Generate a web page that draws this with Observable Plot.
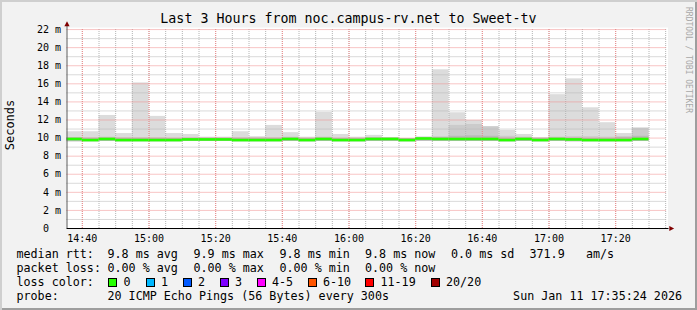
<!DOCTYPE html>
<html>
<head>
<meta charset="utf-8">
<script src="https://cdn.jsdelivr.net/npm/d3@7"></script>
<script src="https://cdn.jsdelivr.net/npm/@observablehq/plot@0.6"></script>
<style>
html, body { margin: 0; padding: 0; background: #ffffff; }
#chart {
  position: relative; width: 697px; height: 310px; box-sizing: border-box;
  background: #f2f2f2;
  box-shadow: inset 2px 2px 0 #cfcfcf, inset -2px -2px 0 #9e9e9e;
  font-family: "DejaVu Sans Mono", monospace; color: #000; overflow: hidden;
}
#chart svg { position: absolute; left: 0; top: 0; }
.t { position: absolute; white-space: pre; font-size: 11.7px; line-height: 14px; }
.title { position: absolute; left: 0; top: 11px; width: 697px; text-align: center; font-size: 13.3px; line-height: 16px; white-space: pre; }
.ylab { position: absolute; font-size: 12px; line-height: 14px; white-space: pre; transform: translate(-50%, -50%) rotate(-90deg); }
.wm { position: absolute; font-size: 8px; line-height: 10px; color: #a8a8a8; white-space: pre; transform: translate(-50%, -50%) rotate(90deg); }
.sw { position: absolute; width: 7px; height: 7px; border: 1px solid #000; }
</style>
</head>
<body>
<div id="chart"></div>
<script>
// ---------- data ----------
const titleText = "Last 3 Hours from noc.campus-rv.net to Sweet-tv";
const yAxisTitle = "Seconds";
const watermark = "RRDTOOL / TOBI OETIKER";
const day = "2026-01-11";
const rangeStart = "14:35:24";
const rangeEnd = "17:35:24";

const barStarts = ["14:35","14:40","14:45","14:50","14:55","15:00","15:05","15:10","15:15","15:20","15:25","15:30","15:35","15:40","15:45","15:50","15:55","16:00","16:05","16:10","16:15","16:20","16:25","16:30","16:35","16:40","16:45","16:50","16:55","17:00","17:05","17:10","17:15","17:20","17:25"];
const smokeLow  = [9.6,9.6,9.62,9.6,9.6,9.6,9.6,9.62,9.62,9.62,9.6,9.6,9.6,9.62,9.6,9.62,9.6,9.6,9.62,9.62,9.6,9.65,9.62,9.62,9.62,9.62,9.6,9.62,9.6,9.62,9.6,9.6,9.6,9.6,9.62];
const smokeHigh = [10.7,10.7,12.5,10.5,16.1,12.4,10.5,10.4,10.1,10.1,10.7,10.15,11.4,10.6,10.1,12.85,10.4,10.1,10.3,10.0,9.95,10.1,17.55,12.8,11.95,11.25,10.85,10.4,10.05,14.8,16.55,13.35,11.7,10.5,11.1];
const smokeMid  = [10.05,10.05,10.1,10.05,10.05,10.05,10.0,10.0,10.0,10.0,10.05,10.05,10.05,10.1,10.0,10.1,10.0,10.0,10.05,10.0,9.95,10.1,10.15,11.4,11.5,11.25,10.2,10.1,10.0,10.1,10.15,10.15,10.1,10.1,11.1];
const smokeCore = [10.0,9.95,10.0,9.95,9.95,9.95,9.95,9.98,9.98,9.98,9.95,9.95,9.95,10.0,9.95,10.0,9.95,9.95,10.0,10.0,9.95,10.05,10.05,10.2,10.25,10.2,10.0,10.0,9.95,10.0,10.0,9.95,9.95,10.1,10.2];
const medianRtt = [9.9,9.78,9.9,9.78,9.78,9.78,9.78,9.85,9.85,9.85,9.78,9.78,9.78,9.9,9.78,9.9,9.78,9.78,9.9,9.9,9.78,9.95,9.9,9.9,9.9,9.9,9.78,9.9,9.78,9.9,9.85,9.78,9.78,9.78,9.9];

const xTickLabels = ["14:40","15:00","15:20","15:40","16:00","16:20","16:40","17:00","17:20"];
const yMajorTicks = [0,2,4,6,8,10,12,14,16,18,20,22];
const yMinorTicks = [1,3,5,7,9,11,13,15,17,19,21];
const yTop = 22.45;

const rttLabel = "median rtt:";
const rttStats = ["9.8 ms avg","9.9 ms max","9.8 ms min","9.8 ms now","0.0 ms sd","371.9","am/s"];
const lossLabel = "packet loss:";
const lossStats = ["0.00 % avg","0.00 % max","0.00 % min","0.00 % now"];
const lossColorLabel = "loss color:";
const lossNames  = ["0","1","2","3","4-5","6-10","11-19","20/20"];
const lossColors = ["#26ff00","#00b8ff","#0059ff","#7e00ff","#ff00ff","#ff5500","#ff0000","#a10000"];
const probeLabel = "probe:";
const probeText = "20 ICMP Echo Pings (56 Bytes) every 300s";
const stampText = "Sun Jan 11 17:35:24 2026";

// ---------- build ----------
const T = s => new Date(`${day}T${s.length === 5 ? s + ":00" : s}Z`);
const t0 = T(rangeStart), t1 = T(rangeEnd);
const step = 5 * 60 * 1000;
const bars = barStarts.map((s, i) => ({
  x1: new Date(Math.max(+T(s), +t0)),
  x2: new Date(+T(s) + step),
  lo: smokeLow[i], hi: smokeHigh[i], mid: smokeMid[i], core: smokeCore[i], med: medianRtt[i]
}));
const majorTimes = xTickLabels.map(T);
const minorTimes = d3.utcMinute.every(5).range(t0, t1);

const upTri = { draw(c) { c.moveTo(0, -2.7); c.lineTo(2.6, 2.2); c.lineTo(-2.6, 2.2); c.closePath(); } };
const rightTri = { draw(c) { c.moveTo(2.7, 0); c.lineTo(-2.2, -2.6); c.lineTo(-2.2, 2.6); c.closePath(); } };

const minorStyle = { stroke: "#b4b4b4", strokeDasharray: "1,1", strokeWidth: 1 };
const majorStyle = { stroke: "#f08a8a", strokeDasharray: "1,1", strokeWidth: 1 };

const plot = Plot.plot({
  width: 697, height: 250,
  marginLeft: 66.5, marginRight: 30.5, marginTop: 25, marginBottom: 22,
  style: { background: "transparent", fontFamily: "DejaVu Sans Mono", fontSize: "10px", color: "#000", overflow: "visible" },
  x: { type: "utc", domain: [t0, t1], ticks: majorTimes, tickFormat: d3.utcFormat("%H:%M"), tickSize: 0, tickPadding: 6, label: null },
  y: { domain: [0, yTop], ticks: yMajorTicks, tickFormat: d => d === 0 ? "0\u00a0\u00a0" : `${d} m`, tickSize: 0, tickPadding: 6, label: null },
  marks: [
    Plot.rect([{}], { x1: () => t0, x2: () => t1, y1: () => 0, y2: () => 22, fill: "#ffffff", insetTop: -1.5, insetRight: -1.5 }),
    Plot.rectY(bars, { x1: "x1", x2: "x2", y1: "lo", y2: "hi", fill: "#dcdcdc" }),
    Plot.rectY(bars, { x1: "x1", x2: "x2", y1: "lo", y2: "mid", fill: "#cbcbcb" }),
    Plot.rectY(bars, { x1: "x1", x2: "x2", y1: "lo", y2: "core", fill: "#b9b9b9" }),
    Plot.ruleX(minorTimes, { y1: 0, y2: 22, ...minorStyle }),
    Plot.ruleY(yMinorTicks, { x1: t0, x2: t1, ...minorStyle }),
    Plot.ruleX(majorTimes, { y1: 0, y2: 22, ...majorStyle }),
    Plot.ruleY(yMajorTicks.filter(d => d > 0), { x1: t0, x2: t1, ...majorStyle }),
    Plot.ruleY(bars, { y: "med", x1: "x1", x2: "x2", stroke: "#26ff00", strokeWidth: 2.6 }),
    Plot.ruleX([t0], { stroke: "#5a5a5a" }),
    Plot.ruleY([0], { x1: t0, x2: t1, stroke: "#000" }),
    Plot.ruleY([0], { x1: t0, x2: t1, stroke: "#000", dx: 2 }),
    Plot.dot([{ t: t0, v: yTop }], { x: "t", y: "v", dy: -1.5, symbol: upTri, fill: "#800000", stroke: "none" }),
    Plot.dot([{ t: t1, v: 0 }], { x: "t", y: "v", dx: 4.5, symbol: rightTri, fill: "#800000", stroke: "none" })
  ]
});

const chart = document.getElementById("chart");
chart.appendChild(plot);

function addText(cls, x, yCenter, text, extra) {
  const el = document.createElement("div");
  el.className = cls;
  el.textContent = text;
  el.style.left = x + "px";
  el.style.top = (yCenter - 7) + "px";
  if (extra) Object.assign(el.style, extra);
  chart.appendChild(el);
  return el;
}
const title = document.createElement("div");
title.className = "title"; title.textContent = titleText; chart.appendChild(title);

const yl = document.createElement("div");
yl.className = "ylab"; yl.textContent = yAxisTitle; yl.style.left = "10px"; yl.style.top = "125px"; chart.appendChild(yl);

const wm = document.createElement("div");
wm.className = "wm"; wm.textContent = watermark; wm.style.left = "688px"; wm.style.top = "60px"; chart.appendChild(wm);

// legend rows
const colX = [107.5, 193.5, 279.5, 365, 451, 529.5, 586];
const row = [254.3, 268.3, 282.3, 295.7];
addText("t", 16.5, row[0], rttLabel);
rttStats.forEach((s, i) => addText("t", colX[i], row[0], s));
addText("t", 16.5, row[1], lossLabel);
lossStats.forEach((s, i) => addText("t", colX[i], row[1], s));
addText("t", 16.5, row[2], lossColorLabel);
const swX = [108, 145.5, 182.5, 219.5, 256.5, 307.5, 365, 430.5];
lossNames.forEach((n, i) => {
  const sw = document.createElement("div");
  sw.className = "sw"; sw.style.left = swX[i] + "px"; sw.style.top = (row[2] - 4.5) + "px";
  sw.style.background = lossColors[i];
  chart.appendChild(sw);
  addText("t", swX[i] + 15.5, row[2], n);
});
addText("t", 16.5, row[3], probeLabel);
addText("t", 107.5, row[3], probeText);
const st = addText("t", 0, row[3], stampText);
st.style.left = ""; st.style.right = "15px";
</script>
</body>
</html>
